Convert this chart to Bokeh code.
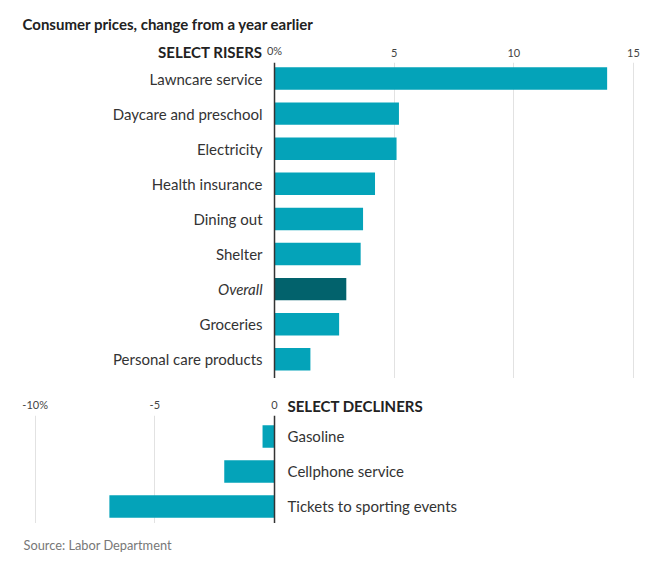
from bokeh.plotting import figure
from bokeh.layouts import column
from bokeh.models import ColumnDataSource, FixedTicker, Span, Range1d, LinearAxis
from bokeh.embed import file_html
from bokeh.resources import INLINE
from bokeh.core.properties import value

# ---- data ----
riser_names = ["Lawncare service", "Daycare and preschool", "Electricity", "Health insurance",
               "Dining out", "Shelter", "Overall", "Groceries", "Personal care products"]
riser_values = [13.9, 5.2, 5.1, 4.2, 3.7, 3.6, 3.0, 2.7, 1.5]
decliner_names = ["Gasoline", "Cellphone service", "Tickets to sporting events"]
decliner_values = [-0.5, -2.1, -6.9]
riser_zero_tick = [0]
riser_zero_label = {0: "0%"}
riser_ticks = [5, 10, 15]
riser_tick_labels = {5: "5", 10: "10", 15: "15"}
decliner_ticks = [-10, -5, 0]
decliner_tick_labels = {-10: "-10%", -5: "-5", 0: "0"}

title_text = "Consumer prices, change from a year earlier"
risers_header = "SELECT RISERS"
decliners_header = "SELECT DECLINERS"
source_text = "Source: Labor Department"

# ---- style ----
FONT = "Lato"
TEAL = "#04a3b9"
DARK = "#02626c"
GRID = "#e2e2e2"
TXT = "#333333"
XMIN, XMAX = -11.116, 15.503
W = 645


def base_fig(height, y_range):
    p = figure(width=W, height=height, x_range=Range1d(XMIN, XMAX), y_range=y_range,
               x_axis_location=None, y_axis_location=None, output_backend="svg",
               toolbar_location=None, min_border_left=8, min_border_right=0,
               min_border_top=0, min_border_bottom=0)
    p.outline_line_color = None
    p.ygrid.visible = False
    return p


def tick_axis(p, ticks, labels, loc, align="center"):
    ax = LinearAxis(ticker=FixedTicker(ticks=ticks), major_label_overrides=labels,
                    fixed_location=loc)
    ax.axis_line_color = None
    ax.major_tick_line_color = None
    ax.minor_tick_line_color = None
    ax.major_label_text_font = FONT
    ax.major_label_text_font_size = "11px"
    ax.major_label_text_color = "#444444"
    ax.major_label_standoff = 0
    ax.major_label_text_align = align
    p.add_layout(ax, "above")


def header_text(p, x, y, txt, align, xoff, size="15px", style="bold", color="#222222"):
    p.text(x=[x], y=[y], text=[txt], x_offset=xoff, text_align=align, text_baseline="middle",
           text_font=value(FONT), text_font_size=size, text_font_style=style, text_color=color)


# ---- header: title + risers header + ticks ----
f1 = base_fig(62, Range1d(62, 0))
f1.xgrid.visible = False
header_text(f1, XMIN, 23, title_text, "left", 14)
header_text(f1, 0, 51, risers_header, "right", -12)
tick_axis(f1, riser_zero_tick, riser_zero_label, 62, align="left")
tick_axis(f1, riser_ticks, riser_tick_labels, 62)

# ---- risers ----
src1 = ColumnDataSource(dict(
    name=riser_names,
    val=riser_values,
    y=list(range(len(riser_names))),
    color=[DARK if n == "Overall" else TEAL for n in riser_names],
    style=["italic" if n == "Overall" else "normal" for n in riser_names],
))
f2 = base_fig(316, Range1d(8.546, -0.456))
f2.xgrid.ticker = FixedTicker(ticks=riser_ticks)
f2.xgrid.grid_line_color = GRID
f2.hbar(y="y", left=0, right="val", height=0.64, fill_color="color", line_color=None, source=src1)
f2.text(x=0, y="y", text="name", x_offset=-12, text_align="right", text_baseline="middle",
        text_font=value(FONT), text_font_size="15px", text_color=TXT,
        text_font_style="style", source=src1)
f2.add_layout(Span(location=0, dimension="height", line_color="#333333", line_width=1.5))

# ---- decliners header + ticks ----
f3 = base_fig(37, Range1d(415, 378))
f3.xgrid.visible = False
header_text(f3, 0, 405, decliners_header, "left", 13)
tick_axis(f3, decliner_ticks, decliner_tick_labels, 416)

# ---- decliners ----
src2 = ColumnDataSource(dict(
    name=decliner_names,
    val=decliner_values,
    y=list(range(len(decliner_names))),
))
f4 = base_fig(108, Range1d(2.486, -0.6))
f4.xgrid.ticker = FixedTicker(ticks=decliner_ticks[:-1])
f4.xgrid.grid_line_color = GRID
f4.hbar(y="y", left=0, right="val", height=0.64, fill_color=TEAL, line_color=None, source=src2)
f4.text(x=0, y="y", text="name", x_offset=13, text_align="left", text_baseline="middle",
        text_font=value(FONT), text_font_size="15px", text_color=TXT, source=src2)
f4.add_layout(Span(location=0, dimension="height", line_color="#333333", line_width=1.5))

# ---- source ----
f5 = base_fig(37, Range1d(560, 523))
f5.xgrid.visible = False
header_text(f5, XMIN, 544, source_text, "left", 15, size="12.8px", style="normal", color="#777777")

layout = column(f1, f2, f3, f4, f5, spacing=0)
open("out.html", "w").write(file_html(layout, INLINE))
